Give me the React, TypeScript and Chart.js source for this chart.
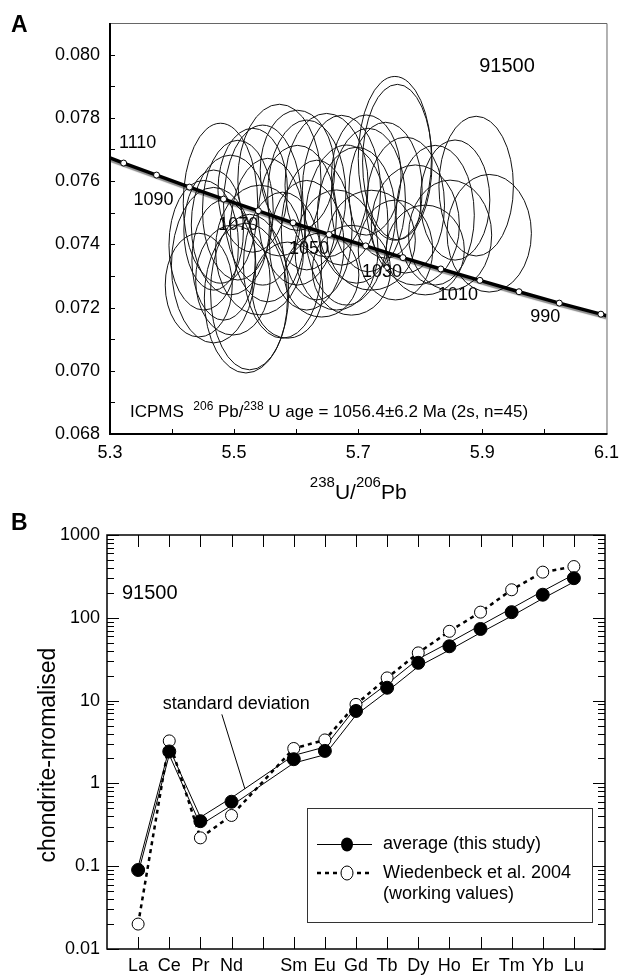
import React, { useEffect, useRef } from 'react';
import { Chart, registerables } from 'chart.js';

Chart.register(...registerables);

const FONT = '"Liberation Sans", Arial, Helvetica, sans-serif';

// ---------------- Panel A: Tera-Wasserburg concordia (91500) ----------------
const concordiaAges = [1110, 1100, 1090, 1080, 1070, 1060, 1050, 1040, 1030, 1020, 1010, 1000, 990, 980];
const concordiaX = [5.322, 5.375, 5.428, 5.483, 5.539, 5.595, 5.653, 5.712, 5.772, 5.833, 5.896, 5.959, 6.024, 6.091];
const concordiaY = [0.07657, 0.07619, 0.07581, 0.07543, 0.07506, 0.07468, 0.07431, 0.07395, 0.07358, 0.07322, 0.07286, 0.0725, 0.07214, 0.07179];
const concordiaEndX = [5.3, 6.1];
const concordiaEndY = [0.07673, 0.07174];
const labelledAges = [1110, 1090, 1070, 1050, 1030, 1010, 990];

const ellipseCX = [5.467, 5.519, 5.525, 5.478, 5.494, 5.451, 5.443, 5.541, 5.573, 5.506, 5.483, 5.578, 5.554, 5.602, 5.53, 5.617, 5.586, 5.498, 5.649, 5.673, 5.633, 5.697, 5.665, 5.716, 5.759, 5.763, 5.744, 5.776, 5.721, 5.792, 5.689, 5.76, 5.808, 5.641, 5.713, 5.602, 5.824, 5.89, 5.911, 5.848, 5.856, 5.546, 5.467, 5.681, 5.617];
const ellipseCY = [0.07334, 0.0723, 0.07249, 0.0753, 0.07461, 0.07397, 0.07271, 0.07382, 0.07603, 0.07508, 0.0735, 0.07334, 0.07445, 0.07492, 0.07571, 0.07397, 0.07255, 0.07287, 0.07587, 0.07571, 0.07445, 0.07492, 0.07382, 0.0754, 0.07672, 0.0766, 0.07571, 0.07524, 0.07413, 0.07461, 0.07318, 0.07382, 0.07382, 0.07303, 0.07619, 0.07634, 0.07492, 0.07584, 0.07435, 0.07429, 0.0754, 0.07524, 0.07445, 0.07461, 0.07556];
const ellipseRX = [0.068, 0.067, 0.063, 0.06, 0.063, 0.056, 0.054, 0.071, 0.067, 0.057, 0.051, 0.063, 0.06, 0.063, 0.056, 0.06, 0.057, 0.06, 0.067, 0.063, 0.057, 0.063, 0.067, 0.06, 0.059, 0.056, 0.059, 0.063, 0.071, 0.071, 0.063, 0.06, 0.063, 0.06, 0.056, 0.06, 0.063, 0.06, 0.068, 0.067, 0.056, 0.063, 0.048, 0.067, 0.063];
const ellipseRY = [0.00246, 0.00237, 0.00246, 0.00253, 0.00221, 0.00205, 0.00164, 0.00205, 0.0024, 0.00221, 0.0019, 0.00231, 0.00227, 0.00221, 0.00196, 0.00205, 0.00152, 0.00174, 0.00227, 0.00237, 0.00221, 0.00215, 0.0019, 0.00227, 0.00259, 0.00246, 0.00215, 0.00215, 0.00158, 0.0019, 0.00142, 0.00158, 0.00142, 0.00133, 0.0019, 0.0019, 0.00221, 0.00221, 0.00186, 0.00174, 0.0019, 0.00253, 0.0019, 0.00253, 0.00237];

const xTicksA = [5.3, 5.5, 5.7, 5.9, 6.1];
const yTicksA = [0.068, 0.07, 0.072, 0.074, 0.076, 0.078, 0.08];

// ---------------- Panel B: chondrite-normalised REE ----------------
const elements = ['La', 'Ce', 'Pr', 'Nd', '', 'Sm', 'Eu', 'Gd', 'Tb', 'Dy', 'Ho', 'Er', 'Tm', 'Yb', 'Lu'];
const averageValues = [0.09, 2.43, 0.35, 0.6, null, 1.96, 2.47, 7.5, 14.3, 28.6, 45.3, 73.3, 117, 190, 301];
const sdUpperValues = [0.098, 2.65, 0.39, 0.67, null, 2.18, 2.75, 8.3, 15.9, 31.8, 50.3, 81, 130, 210, 333];
const sdLowerValues = [0.082, 2.22, 0.315, 0.54, null, 1.76, 2.22, 6.7, 12.9, 25.8, 40.8, 66, 105, 171, 271];
const wiedenbeckValues = [0.02, 3.26, 0.22, 0.41, null, 2.64, 3.35, 9.0, 18.8, 37.7, 68.7, 117, 218, 356, 416];
const yTicksB = [0.01, 0.1, 1, 10, 100, 1000];
const yTickLabelsB = ['0.01', '0.1', '1', '10', '100', '1000'];

const toPoints = (vals: (number | null)[]) =>
  vals.map((v, i) => (v == null ? null : { x: i, y: v })).filter(Boolean) as { x: number; y: number }[];

type Part = [string, number, number];
function drawRich(ctx: CanvasRenderingContext2D, parts: Part[], x: number, y: number, align: 'left' | 'center') {
  let total = 0;
  const widths = parts.map(([t, s]) => {
    ctx.font = `${s}px ${FONT}`;
    const w = ctx.measureText(t).width;
    total += w;
    return w;
  });
  let cx = align === 'center' ? x - total / 2 : x;
  ctx.textAlign = 'left';
  ctx.textBaseline = 'alphabetic';
  parts.forEach(([t, s, raise], i) => {
    ctx.font = `${s}px ${FONT}`;
    ctx.fillText(t, cx, y - raise);
    cx += widths[i];
  });
}

const labelOffsets: Record<number, [number, number]> = {
  1110: [14, -20], 1090: [-36, 13], 1070: [-20, 14], 1050: [-20, 15], 1030: [-21, 14], 1010: [-22, 15], 990: [-14, 14],
};

const panelAPlugin = {
  id: 'panelA',
  beforeDatasetsDraw(chart: any) {
    const { ctx, chartArea: ca, scales } = chart;
    const x = scales.x, y = scales.y;
    ctx.save();
    ctx.beginPath();
    ctx.rect(ca.left, ca.top, ca.right - ca.left, ca.bottom - ca.top);
    ctx.clip();
    ctx.fillStyle = '#000';
    ctx.font = `18px ${FONT}`;
    ctx.textAlign = 'center';
    ctx.textBaseline = 'middle';
    labelledAges.forEach((age) => {
      const i = concordiaAges.indexOf(age);
      const px = x.getPixelForValue(concordiaX[i]);
      const py = y.getPixelForValue(concordiaY[i]);
      const [dx, dy] = labelOffsets[age];
      ctx.fillText(String(age), px + dx, py + dy);
    });
    ctx.strokeStyle = '#111';
    ctx.lineWidth = 1;
    for (let i = 0; i < ellipseCX.length; i++) {
      const cx = x.getPixelForValue(ellipseCX[i]);
      const cy = y.getPixelForValue(ellipseCY[i]);
      const rx = Math.abs(x.getPixelForValue(ellipseCX[i] + ellipseRX[i]) - cx);
      const ry = Math.abs(y.getPixelForValue(ellipseCY[i] + ellipseRY[i]) - cy);
      ctx.beginPath();
      ctx.ellipse(cx, cy, rx, ry, 0, 0, Math.PI * 2);
      ctx.stroke();
    }
    ctx.restore();
  },
  beforeDatasetDraw(chart: any, args: any) {
    if (args.index === 0) {
      const ctx = chart.ctx;
      ctx.save();
      ctx.shadowColor = 'rgba(0,0,0,0.45)';
      ctx.shadowOffsetX = 0;
      ctx.shadowOffsetY = 2;
      ctx.shadowBlur = 1;
    }
  },
  afterDatasetDraw(chart: any, args: any) {
    if (args.index === 0) chart.ctx.restore();
  },
  afterDraw(chart: any) {
    const { ctx, chartArea: ca, scales } = chart;
    const x = scales.x, y = scales.y;
    ctx.save();
    // frame
    ctx.strokeStyle = '#666';
    ctx.lineWidth = 1;
    ctx.beginPath();
    ctx.moveTo(ca.left, ca.top + 0.5);
    ctx.lineTo(ca.right + 0.5, ca.top + 0.5);
    ctx.lineTo(ca.right + 0.5, ca.bottom);
    ctx.stroke();
    ctx.strokeStyle = '#000';
    ctx.lineWidth = 2;
    ctx.beginPath();
    ctx.moveTo(ca.left, ca.top);
    ctx.lineTo(ca.left, ca.bottom);
    ctx.lineTo(ca.right + 1, ca.bottom);
    ctx.stroke();
    // inward ticks
    ctx.lineWidth = 1;
    for (let k = 1; k < 8; k++) {
      const px = Math.round(x.getPixelForValue(5.3 + k * 0.1)) + 0.5;
      ctx.beginPath();
      ctx.moveTo(px, ca.bottom);
      ctx.lineTo(px, ca.bottom - 5);
      ctx.stroke();
    }
    for (let k = 1; k < 13; k++) {
      const py = Math.round(y.getPixelForValue(0.068 + k * 0.001)) + 0.5;
      ctx.beginPath();
      ctx.moveTo(ca.left, py);
      ctx.lineTo(ca.left + 5, py);
      ctx.stroke();
    }
    // texts
    ctx.fillStyle = '#000';
    ctx.font = `bold 23px ${FONT}`;
    ctx.textAlign = 'left';
    ctx.textBaseline = 'alphabetic';
    ctx.fillText('A', 11, 32);
    ctx.font = `20px ${FONT}`;
    ctx.textAlign = 'center';
    ctx.fillText('91500', 507, 72);
    drawRich(ctx, [
      ['ICPMS  ', 17, 0], ['206', 12, 7], [' Pb/', 17, 0], ['238', 12, 7], [' U age = 1056.4±6.2 Ma (2s, n=45)', 17, 0],
    ], 130, 417, 'left');
    drawRich(ctx, [['238', 15, 12], ['U/', 21, 0], ['206', 15, 12], ['Pb', 21, 0]], (ca.left + ca.right) / 2, 499, 'center');
    ctx.restore();
  },
};

const panelBPlugin = {
  id: 'panelB',
  afterDraw(chart: any) {
    const { ctx, chartArea: ca, scales } = chart;
    const x = scales.x, y = scales.y;
    ctx.save();
    ctx.strokeStyle = '#000';
    ctx.lineWidth = 1.5;
    ctx.strokeRect(ca.left, ca.top, ca.right - ca.left, ca.bottom - ca.top);
    ctx.lineWidth = 1;
    // x ticks top & bottom
    for (let i = 0; i < elements.length; i++) {
      const px = Math.round(x.getPixelForValue(i)) + 0.5;
      ctx.beginPath();
      ctx.moveTo(px, ca.bottom);
      ctx.lineTo(px, ca.bottom - 12);
      ctx.moveTo(px, ca.top);
      ctx.lineTo(px, ca.top + 12);
      ctx.stroke();
    }
    // y log ticks left & right
    for (let d = 0; d < yTicksB.length; d++) {
      for (let m = 1; m <= 9; m++) {
        const v = yTicksB[d] * m;
        if (v > 1000) continue;
        const len = m === 1 ? 12 : 7;
        const py = Math.round(y.getPixelForValue(v)) + 0.5;
        ctx.beginPath();
        ctx.moveTo(ca.left, py);
        ctx.lineTo(ca.left + len, py);
        ctx.moveTo(ca.right, py);
        ctx.lineTo(ca.right - len, py);
        ctx.stroke();
      }
    }
    // panel texts
    ctx.fillStyle = '#000';
    ctx.textBaseline = 'alphabetic';
    ctx.textAlign = 'left';
    ctx.font = `bold 23px ${FONT}`;
    ctx.fillText('B', 11, 22);
    ctx.font = `20px ${FONT}`;
    ctx.fillText('91500', 122, 91);
    ctx.font = `18px ${FONT}`;
    ctx.fillText('standard deviation', x.getPixelForValue(0.79), y.getPixelForValue(7.83));
    ctx.beginPath();
    ctx.moveTo(x.getPixelForValue(2.69), y.getPixelForValue(6.82));
    ctx.lineTo(x.getPixelForValue(3.43), y.getPixelForValue(0.86));
    ctx.stroke();
    // y axis title
    ctx.save();
    ctx.translate(55, 247);
    ctx.rotate(-Math.PI / 2);
    ctx.textAlign = 'center';
    ctx.font = `23px ${FONT}`;
    ctx.fillText('chondrite-nromalised', 0, 0);
    ctx.restore();
    // legend
    const bx = 307, by = 300, bw = 285, bh = 114;
    ctx.fillStyle = '#fff';
    ctx.fillRect(bx, by, bw, bh);
    ctx.strokeStyle = '#333';
    ctx.lineWidth = 1;
    ctx.strokeRect(bx + 0.5, by + 0.5, bw, bh);
    ctx.strokeStyle = '#000';
    ctx.beginPath();
    ctx.moveTo(317, 336.5);
    ctx.lineTo(372, 336.5);
    ctx.stroke();
    ctx.fillStyle = '#000';
    ctx.beginPath();
    ctx.ellipse(347, 336.5, 6, 7, 0, 0, Math.PI * 2);
    ctx.fill();
    ctx.lineWidth = 2.5;
    ctx.setLineDash([4, 4]);
    ctx.beginPath();
    ctx.moveTo(317, 365);
    ctx.lineTo(372, 365);
    ctx.stroke();
    ctx.setLineDash([]);
    ctx.lineWidth = 1;
    ctx.fillStyle = '#fff';
    ctx.beginPath();
    ctx.ellipse(347, 365, 6, 7, 0, 0, Math.PI * 2);
    ctx.fill();
    ctx.stroke();
    ctx.fillStyle = '#000';
    ctx.font = `18px ${FONT}`;
    ctx.textBaseline = 'middle';
    ctx.fillText('average (this study)', 383, 336);
    ctx.fillText('Wiedenbeck et al. 2004', 383, 365);
    ctx.fillText('(working values)', 383, 386);
    ctx.restore();
  },
};

export default function App() {
  const refA = useRef<HTMLCanvasElement>(null);
  const refB = useRef<HTMLCanvasElement>(null);

  useEffect(() => {
    const tickFont = { family: FONT, size: 18 };
    const concordiaLine = [
      { x: concordiaEndX[0], y: concordiaEndY[0] },
      ...concordiaX.map((x, i) => ({ x, y: concordiaY[i] })),
      { x: concordiaEndX[1], y: concordiaEndY[1] },
    ];
    const chartA = new Chart(refA.current!, {
      type: 'scatter',
      data: {
        datasets: [
          {
            type: 'line',
            data: concordiaLine,
            borderColor: '#000',
            borderWidth: 3.5,
            pointRadius: 0,
            fill: false,
            tension: 0,
            order: 2,
          } as any,
          {
            type: 'scatter',
            data: concordiaX.map((x, i) => ({ x, y: concordiaY[i] })),
            pointRadius: 3,
            pointBackgroundColor: '#fff',
            pointBorderColor: '#000',
            pointBorderWidth: 1,
            order: 1,
          } as any,
        ],
      },
      options: {
        animation: false,
        responsive: false,
        layout: { padding: { top: 23, right: 13, left: 0, bottom: 0 } },
        plugins: { legend: { display: false }, tooltip: { enabled: false } },
        scales: {
          x: {
            type: 'linear',
            min: 5.3,
            max: 6.1,
            afterBuildTicks: (s: any) => { s.ticks = xTicksA.map((value) => ({ value })); },
            afterFit: (s: any) => { s.height = 74; },
            ticks: { callback: (v: any) => Number(v).toFixed(1), font: tickFont, color: '#000', padding: 8, maxRotation: 0, autoSkip: false },
            grid: { display: false, drawTicks: false },
            border: { display: false },
          },
          y: {
            type: 'linear',
            min: 0.068,
            max: 0.081,
            afterBuildTicks: (s: any) => { s.ticks = yTicksA.map((value) => ({ value })); },
            afterFit: (s: any) => { s.width = 110; },
            ticks: { callback: (v: any) => Number(v).toFixed(3), font: tickFont, color: '#000', padding: 10, autoSkip: false },
            grid: { display: false, drawTicks: false },
            border: { display: false },
          },
        },
      } as any,
      plugins: [panelAPlugin],
    });

    const chartB = new Chart(refB.current!, {
      type: 'line',
      data: {
        datasets: [
          {
            type: 'scatter',
            data: toPoints(averageValues),
            pointRadius: 6.5,
            pointBackgroundColor: '#000',
            pointBorderColor: '#000',
            pointBorderWidth: 1,
            showLine: false,
            order: 0,
          } as any,
          {
            type: 'line',
            data: toPoints(wiedenbeckValues),
            borderColor: '#000',
            borderWidth: 2.5,
            borderDash: [4, 4],
            pointRadius: 6,
            pointBackgroundColor: '#fff',
            pointBorderColor: '#000',
            pointBorderWidth: 1,
            fill: false,
            tension: 0,
            order: 1,
          } as any,
          {
            type: 'line',
            data: toPoints(sdUpperValues),
            borderColor: '#000',
            borderWidth: 1,
            pointRadius: 0,
            fill: false,
            tension: 0,
            order: 2,
          } as any,
          {
            type: 'line',
            data: toPoints(sdLowerValues),
            borderColor: '#000',
            borderWidth: 1,
            pointRadius: 0,
            fill: false,
            tension: 0,
            order: 2,
          } as any,
        ],
      },
      options: {
        animation: false,
        responsive: false,
        layout: { padding: { top: 27, right: 22, left: 0, bottom: 0 } },
        plugins: { legend: { display: false }, tooltip: { enabled: false } },
        scales: {
          x: {
            type: 'linear',
            min: -1,
            max: 15,
            afterBuildTicks: (s: any) => { s.ticks = elements.map((_, i) => ({ value: i })); },
            afterFit: (s: any) => { s.height = 28; },
            ticks: { callback: (v: any) => elements[Math.round(Number(v))] ?? '', font: tickFont, color: '#000', padding: 6, maxRotation: 0, autoSkip: false },
            grid: { display: false, drawTicks: false },
            border: { display: false },
          },
          y: {
            type: 'logarithmic',
            min: 0.01,
            max: 1000,
            afterBuildTicks: (s: any) => { s.ticks = yTicksB.map((value) => ({ value })); },
            afterFit: (s: any) => { s.width = 107; },
            ticks: { callback: (_v: any, i: number) => yTickLabelsB[i], font: tickFont, color: '#000', padding: 7, autoSkip: false },
            grid: { display: false, drawTicks: false },
            border: { display: false },
          },
        },
      } as any,
      plugins: [panelBPlugin],
    });

    return () => {
      chartA.destroy();
      chartB.destroy();
    };
  }, []);

  return (
    <div style={{ position: 'absolute', left: 0, top: 0, width: 627, height: 977, background: '#fff' }}>
      <canvas ref={refA} width={627} height={508} style={{ position: 'absolute', left: 0, top: 0, display: 'block' }} />
      <canvas ref={refB} width={627} height={469} style={{ position: 'absolute', left: 0, top: 508, display: 'block' }} />
    </div>
  );
}
